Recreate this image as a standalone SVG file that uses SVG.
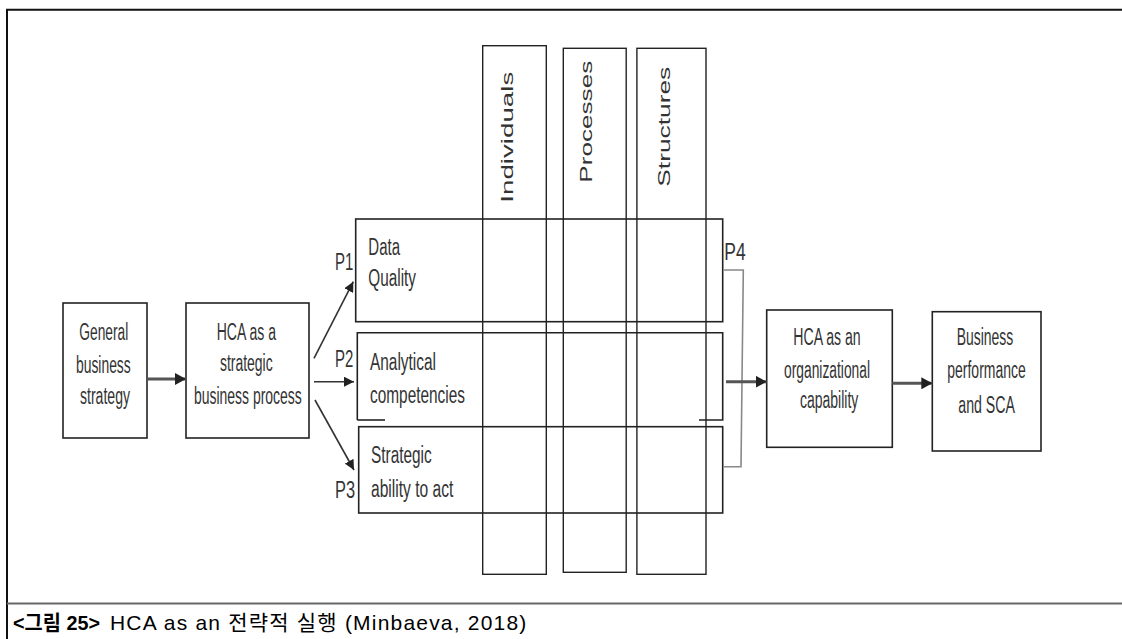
<svg xmlns="http://www.w3.org/2000/svg" width="1122" height="639" viewBox="0 0 1122 639">
  <style>
    .box { fill: none; stroke: #222; stroke-width: 1.6; }
    .col { fill: none; stroke: #222; stroke-width: 1.4; }
    .lbl { font-family: "Liberation Sans", Arial, sans-serif; font-size: 23px; fill: #333; }
    .vlbl { font-family: "Liberation Sans", Arial, sans-serif; font-size: 16px; fill: #333; }
    .plbl { font-family: "Liberation Sans", Arial, sans-serif; font-size: 24px; fill: #333; }
    .cap { font-family: "Liberation Sans", "Noto Sans CJK KR", sans-serif; font-size: 21px; fill: #000; }
    .thick { stroke: #555; stroke-width: 3; fill: none; }
    .thin { stroke: #333; stroke-width: 1.6; fill: none; }
    .bracket { stroke: #888; stroke-width: 1.6; fill: none; }
  </style>
  <defs>
    <marker id="headBig" markerUnits="userSpaceOnUse" markerWidth="12" markerHeight="12" refX="11" refY="6" orient="auto">
      <path d="M0,0 L11,6 L0,12 z" fill="#222"/>
    </marker>
    <marker id="headSmall" markerUnits="userSpaceOnUse" markerWidth="11" markerHeight="10" refX="10" refY="5" orient="auto">
      <path d="M0,0 L10,5 L0,10 z" fill="#222"/>
    </marker>
  </defs>

  <rect width="1122" height="639" fill="#fff"/>

  <!-- outer frame and caption separator -->
  <g id="frame">
    <path d="M7,640 V9.8 H1122" fill="none" stroke="#111" stroke-width="2"/>
    <line x1="7" y1="603.5" x2="1122" y2="603.5" stroke="#666" stroke-width="2"/>
  </g>

  <!-- dimension columns -->
  <g id="col-individuals">
    <rect class="col" x="482.7" y="45.7" width="63.6" height="528.6"/>
    <text class="vlbl" transform="translate(513.3,202.7) rotate(-90)" textLength="131" lengthAdjust="spacingAndGlyphs">Individuals</text>
  </g>
  <g id="col-processes">
    <rect class="col" x="563.3" y="48.3" width="62.9" height="524"/>
    <text class="vlbl" transform="translate(591.7,182.7) rotate(-90)" textLength="122" lengthAdjust="spacingAndGlyphs">Processes</text>
  </g>
  <g id="col-structures">
    <rect class="col" x="636.9" y="48.3" width="69.1" height="526"/>
    <text class="vlbl" transform="translate(670,186.7) rotate(-90)" textLength="120" lengthAdjust="spacingAndGlyphs">Structures</text>
  </g>

  <!-- left-hand nodes -->
  <g id="general-strategy">
    <rect class="box" x="63" y="303" width="84" height="135"/>
    <text class="lbl" x="79.3" y="340" textLength="49" lengthAdjust="spacingAndGlyphs">General</text>
    <text class="lbl" x="76" y="373" textLength="54.7" lengthAdjust="spacingAndGlyphs">business</text>
    <text class="lbl" x="80" y="404" textLength="50" lengthAdjust="spacingAndGlyphs">strategy</text>
  </g>
  <g id="hca-process">
    <rect class="box" x="186" y="303" width="123" height="135"/>
    <text class="lbl" x="216.7" y="340" textLength="59.3" lengthAdjust="spacingAndGlyphs">HCA as a</text>
    <text class="lbl" x="220" y="371" textLength="52.7" lengthAdjust="spacingAndGlyphs">strategic</text>
    <text class="lbl" x="194" y="404" textLength="107.7" lengthAdjust="spacingAndGlyphs">business process</text>
  </g>

  <!-- HCA components (rows) -->
  <g id="row-data-quality">
    <rect class="box" x="355.7" y="219" width="367" height="102.7"/>
    <text class="lbl" x="368.3" y="255" textLength="31.7" lengthAdjust="spacingAndGlyphs">Data</text>
    <text class="lbl" x="368.3" y="286" textLength="47.7" lengthAdjust="spacingAndGlyphs">Quality</text>
  </g>
  <g id="row-analytical">
    <path class="box" d="M357.3,420 V332.7 H722.7 V420 H699"/>
    <line class="box" x1="357.3" y1="420" x2="385" y2="420"/>
    <text class="lbl" x="370" y="370" textLength="66" lengthAdjust="spacingAndGlyphs">Analytical</text>
    <text class="lbl" x="370" y="402.7" textLength="95" lengthAdjust="spacingAndGlyphs">competencies</text>
  </g>
  <g id="row-ability">
    <rect class="box" x="358.7" y="426.7" width="364" height="86.3"/>
    <text class="lbl" x="371" y="463.3" textLength="60.7" lengthAdjust="spacingAndGlyphs">Strategic</text>
    <text class="lbl" x="371" y="496.7" textLength="82.3" lengthAdjust="spacingAndGlyphs">ability to act</text>
  </g>

  <!-- right-hand nodes -->
  <g id="hca-capability">
    <rect class="box" x="766.7" y="310" width="125.6" height="137.3"/>
    <text class="lbl" x="793.3" y="345" textLength="67.4" lengthAdjust="spacingAndGlyphs">HCA as an</text>
    <text class="lbl" x="784" y="378.3" textLength="86" lengthAdjust="spacingAndGlyphs">organizational</text>
    <text class="lbl" x="800" y="408" textLength="58.3" lengthAdjust="spacingAndGlyphs">capability</text>
  </g>
  <g id="business-performance">
    <rect class="box" x="932.3" y="311.7" width="108.7" height="139.3"/>
    <text class="lbl" x="956.7" y="345" textLength="56.6" lengthAdjust="spacingAndGlyphs">Business</text>
    <text class="lbl" x="947.3" y="378" textLength="78.4" lengthAdjust="spacingAndGlyphs">performance</text>
    <text class="lbl" x="958.3" y="413.3" textLength="56.7" lengthAdjust="spacingAndGlyphs">and SCA</text>
  </g>

  <!-- path labels -->
  <g id="path-labels">
    <text class="plbl" x="335" y="270" textLength="18.3" lengthAdjust="spacingAndGlyphs">P1</text>
    <text class="plbl" x="335" y="366.7" textLength="18.3" lengthAdjust="spacingAndGlyphs">P2</text>
    <text class="plbl" x="335" y="498.3" textLength="20" lengthAdjust="spacingAndGlyphs">P3</text>
    <text class="plbl" x="724.3" y="260" textLength="21.4" lengthAdjust="spacingAndGlyphs">P4</text>
  </g>

  <!-- connectors -->
  <g id="connectors">
    <line class="thick" x1="147" y1="379" x2="186" y2="379" marker-end="url(#headBig)"/>
    <line class="thin" x1="314" y1="358.3" x2="353.3" y2="281.7" marker-end="url(#headSmall)"/>
    <line class="thin" x1="314" y1="381.7" x2="354" y2="381.7" stroke-width="2.2" marker-end="url(#headSmall)"/>
    <line class="thin" x1="315" y1="400" x2="354" y2="470" marker-end="url(#headSmall)"/>
    <path class="bracket" d="M723.3,270 H743.3 L741,466.7 H723.3"/>
    <line class="thick" x1="726" y1="381.7" x2="766.7" y2="381.7" marker-end="url(#headBig)"/>
    <line class="thick" x1="892.3" y1="383.3" x2="932.3" y2="383.3" marker-end="url(#headBig)"/>
  </g>

  <!-- caption -->
  <g id="caption">
    <text class="cap" x="13" y="630" font-weight="bold" textLength="87" lengthAdjust="spacingAndGlyphs">&lt;그림 25&gt;</text>
    <text class="cap" x="110" y="630" letter-spacing="1.2">HCA as an 전략적 실행 (Minbaeva, 2018)</text>
  </g>
</svg>
